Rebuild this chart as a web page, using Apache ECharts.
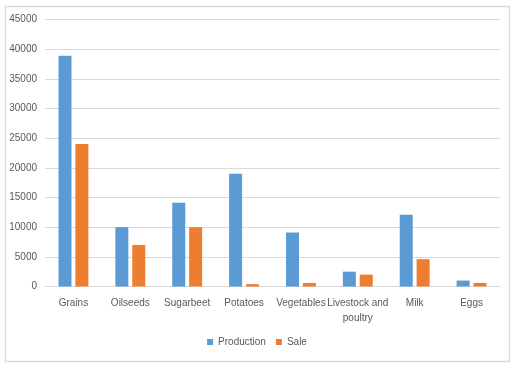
<!DOCTYPE html>
<html><head><meta charset="utf-8">
<script src="https://cdn.jsdelivr.net/npm/echarts@6/dist/echarts.min.js"></script>
<style>html,body{margin:0;padding:0;background:#fff}#c{width:514px;height:366px}</style>
</head><body><div id="c"></div>
<script>
const categories = ["Grains","Oilseeds","Sugarbeet","Potatoes","Vegetables","Livestock and\npoultry","Milk","Eggs"];
const production = [38900,10000,14100,19000,9100,2500,12100,1000];
const sale = [24000,7000,10000,400,600,2000,4600,600];
const yTicks = {min:0,max:45000,interval:5000};

const chart = echarts.init(document.getElementById('c'));
const font = 'Liberation Sans';
chart.setOption({
  animation:false,
  graphic:[{type:'rect',shape:{x:5.5,y:6.5,width:504,height:355},style:{fill:'none',stroke:'#d9d9d9',lineWidth:1.5}}],
  grid:{left:45,right:14,top:19.5,bottom:79.5},
  legend:{bottom:14,left:'center',itemWidth:6,itemHeight:6,itemGap:10,icon:'rect',
    textStyle:{fontFamily:font,fontSize:10,color:'#595959'},data:['Production','Sale']},
  xAxis:{type:'category',data:categories,
    axisLine:{lineStyle:{color:'#d9d9d9',width:1}},axisTick:{show:false},
    axisLabel:{fontFamily:font,fontSize:10,color:'#595959',margin:9,interval:0,lineHeight:15}},
  yAxis:{type:'value',min:yTicks.min,max:yTicks.max,interval:yTicks.interval,
    axisLine:{show:false},axisTick:{show:false},
    splitLine:{lineStyle:{color:'#d9d9d9',width:1}},
    axisLabel:{fontFamily:font,fontSize:10,color:'#595959',margin:8,formatter:v=>String(v)}},
  series:[
    {name:'Production',type:'bar',data:production,barWidth:13,barGap:'30%',itemStyle:{color:'#5b9bd5'}},
    {name:'Sale',type:'bar',data:sale,barWidth:13,itemStyle:{color:'#ed7d31'}}
  ]
});
</script></body></html>
